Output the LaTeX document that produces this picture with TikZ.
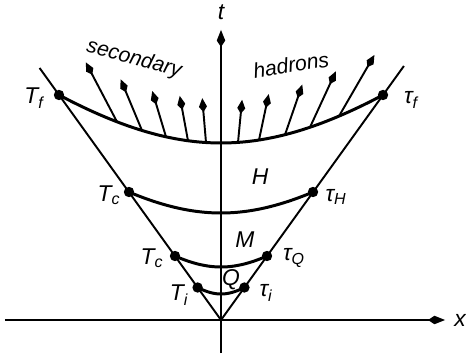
\documentclass[tikz,border=0pt]{standalone}
\usepackage{fontspec}
\setmainfont{Liberation Sans}
\usetikzlibrary{arrows.meta,calc}
\tikzset{
  axis/.style={line width=1.2pt, -{Kite[length=3.4mm,width=1.7mm,inset=1.3mm]}},
  cone/.style={line width=1.1pt},
  isochrone/.style={line width=1.7pt},
  hadron/.style={line width=1.1pt, -{Kite[length=2.8mm,width=1.6mm,inset=1.1mm]}},
  lbl/.style={font=\fontsize{13}{15}\selectfont\itshape, inner sep=0pt},
  word/.style={font=\fontsize{12}{14}\selectfont\itshape, inner sep=0pt},
}
\newcommand\tsub[2]{#1\textsubscript{#2}}
\begin{document}
\begin{tikzpicture}[x=0.2cm, y=0.2cm]
  \useasboundingbox (-22.1,-3.3) rectangle (24.5,32.0);

  % Achsen
  \coordinate (O) at (0,0);
  \coordinate (xl) at (-21.6,0);
  \coordinate (xr) at (22.4,0);
  \coordinate (tb) at (0,-3.3);
  \coordinate (tt) at (0,29.0);
  \draw[axis] (xl) -- (xr);
  \draw[axis] (tb) -- (tt);
  \node[lbl] (xlab) at (23.9,0) {x};
  \node[lbl] (tlab) at (0,30.8) {t};

  % Lichtkegel
  \coordinate (CL) at (-18.14,25.2);
  \coordinate (CR) at (18.29,25.4);
  \draw[cone] (CL) -- (O) -- (CR);

  % Hyperbeln tau = const
  \foreach \hgt/\bend/\xe in {17.7/0.735/16.2, 10.7/0.581/9.2, 5.3/0.606/4.6, 2.6/0.694/2.34}
    \draw[isochrone] plot[domain=-\xe:\xe, samples=41, smooth] (\x, {sqrt(\hgt*\hgt+\bend*\x*\x)});

  % Punkte auf dem Kegel
  \coordinate (Tf) at (-16.2,22.5);
  \coordinate (tauf) at (16.2,22.5);
  \coordinate (Tc1) at (-9.2,12.8);
  \coordinate (tauH) at (9.2,12.8);
  \coordinate (Tc2) at (-4.6,6.4);
  \coordinate (tauQ) at (4.6,6.4);
  \coordinate (Ti) at (-2.34,3.25);
  \coordinate (taui) at (2.34,3.25);
  \foreach \p in {Tf,tauf,Tc1,tauH,Tc2,tauQ,Ti,taui}
    \fill (\p) circle (0.52);

  % Sekundaere Hadronen
  \foreach \bx/\f in {-10.4/1.30, -7.9/1.27, -5.5/1.25, -3.3/1.25, -1.5/1.25, 1.7/1.24, 3.8/1.255, 6.4/1.27, 8.9/1.29, 11.8/1.30} {
    \coordinate (foot) at (\bx, {sqrt(17.7*17.7+0.735*\bx*\bx)});
    \draw[hadron] (foot) -- ($(O)!\f!(foot)$);
  }

  % Beschriftung
  \node[word, rotate=-15] (sec) at (-8.7,26.1) {secondary};
  \node[word, rotate=9] (had) at (7.0,25.5) {hadrons};
  \node[lbl] (lTf) at (-18.7,22.2) {\tsub{T}{f}};
  \node[lbl] (ltauf) at (19.0,22.0) {\tsub{τ}{f}};
  \node[lbl] (lH) at (3.9,14.3) {H};
  \node[lbl] (lTc1) at (-11.2,12.5) {\tsub{T}{c}};
  \node[lbl] (ltauH) at (11.5,12.3) {\tsub{τ}{H}};
  \node[lbl] (lM) at (2.4,8.0) {M};
  \node[lbl] (lTc2) at (-6.9,6.2) {\tsub{T}{c}};
  \node[lbl] (ltauQ) at (7.3,6.2) {\tsub{τ}{Q}};
  \node[lbl] (lQ) at (1.0,4.0) {Q};
  \node[lbl] (lTi) at (-4.2,2.5) {\tsub{T}{i}};
  \node[lbl] (ltaui) at (4.5,2.7) {\tsub{τ}{i}};
\end{tikzpicture}
\end{document}
